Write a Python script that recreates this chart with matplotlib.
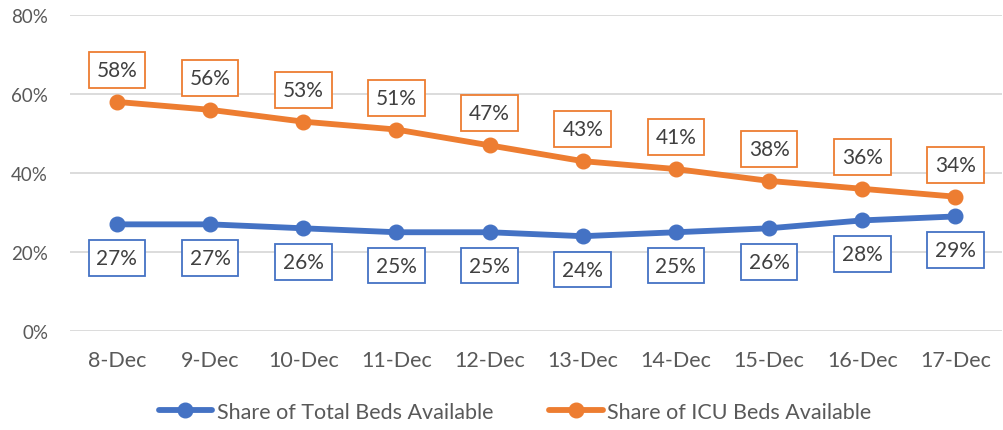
import matplotlib
matplotlib.use('Agg')
import matplotlib.pyplot as plt
from matplotlib.ticker import PercentFormatter

DATES = ['8-Dec', '9-Dec', '10-Dec', '11-Dec', '12-Dec',
         '13-Dec', '14-Dec', '15-Dec', '16-Dec', '17-Dec']
TOTAL_BEDS = [27, 27, 26, 25, 25, 24, 25, 26, 28, 29]
ICU_BEDS = [58, 56, 53, 51, 47, 43, 41, 38, 36, 34]
Y_TICKS = [0, 20, 40, 60, 80]

BLUE = '#4472C4'
ORANGE = '#ED7D31'
GREY = '#595959'

plt.rcParams['font.family'] = ['Lato', 'DejaVu Sans']

fig = plt.figure(figsize=(10.04, 4.31), dpi=100)
ax = fig.add_axes([0.070, 0.2297, 0.928, 0.7332])

x = list(range(len(DATES)))
series = [
    (TOTAL_BEDS, BLUE, 'Share of Total Beds Available', 24),
    (ICU_BEDS, ORANGE, 'Share of ICU Beds Available', -23),
]
for values, color, label, offset in series:
    ax.plot(x, values, color=color, lw=4.2, marker='o', ms=10.5,
            solid_capstyle='round', label=label, zorder=3)
    for xi, v in zip(x, values):
        ax.annotate(f'{v}%', (xi, v), xytext=(0, -offset),
                    textcoords='offset points', ha='center', va='center',
                    fontsize=15, color='#404040',
                    bbox=dict(boxstyle='square,pad=0.38', fc='white',
                              ec=color, lw=1.3))

ax.set_xlim(-0.5, len(DATES) - 0.5)
ax.set_ylim(0, 80)
ax.set_yticks(Y_TICKS)
ax.yaxis.set_major_formatter(PercentFormatter(decimals=0))
ax.set_xticks(x)
ax.set_xticklabels(DATES)
ax.tick_params(axis='both', length=0, colors=GREY)
ax.tick_params(axis='y', pad=16, labelsize=13.5)
ax.tick_params(axis='x', pad=14, labelsize=15.5)
ax.grid(axis='y', color='#D9D9D9', lw=1.3)
ax.set_axisbelow(True)
for s in ax.spines.values():
    s.set_visible(False)

leg = fig.legend(loc='center', bbox_to_anchor=(0.513, 0.042), ncol=2,
                 frameon=False, fontsize=15.5, handlelength=2.5,
                 handletextpad=0.2, columnspacing=2.6)
for t in leg.get_texts():
    t.set_color(GREY)

fig.savefig('out.png', dpi=100)
